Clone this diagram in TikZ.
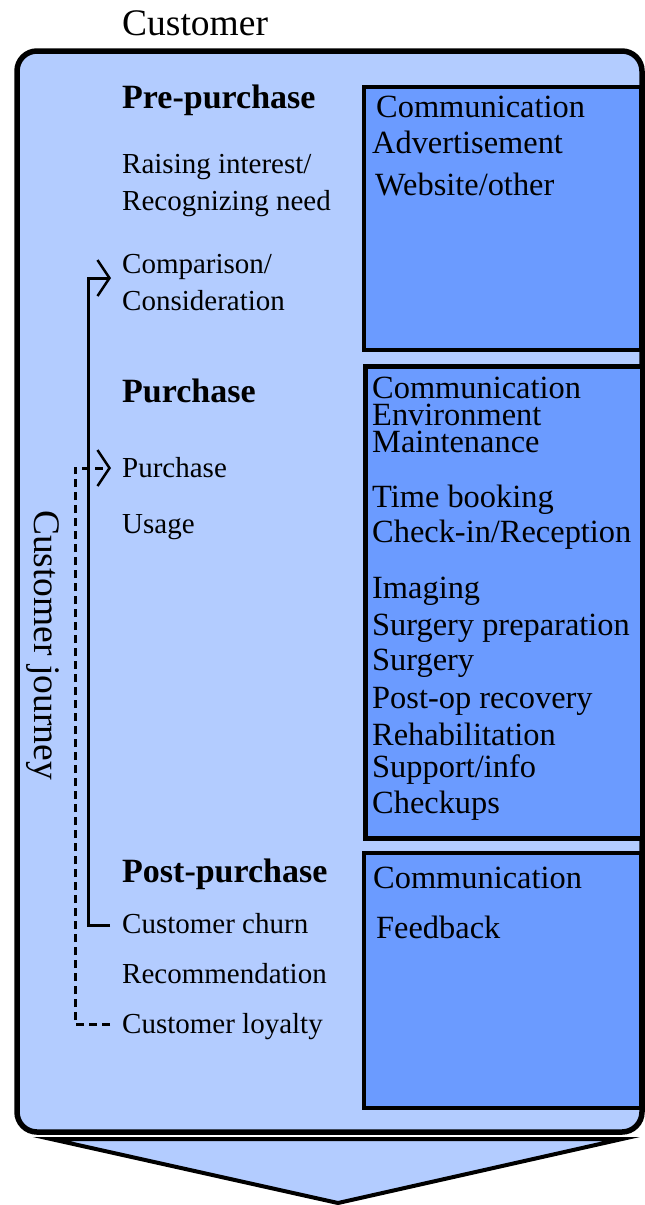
\documentclass[tikz,border=0pt]{standalone}
\usepackage{fontspec}
\setmainfont{Liberation Serif}
\usetikzlibrary{arrows.meta}
\definecolor{outerblue}{HTML}{B3CCFF}
\definecolor{innerblue}{HTML}{6B9BFF}
\tikzset{
  txt/.style={anchor=base west, inner sep=0pt, font=\fontsize{29}{34}\selectfont},
  head/.style={anchor=base west, inner sep=0pt, font=\fontsize{34}{40}\selectfont\bfseries},
  rtxt/.style={anchor=base west, inner sep=0pt, font=\fontsize{32.4}{38}\selectfont},
  bigtxt/.style={inner sep=0pt, font=\fontsize{37.5}{44}\selectfont},
  panel/.style={draw=black, fill=innerblue, line width=3.5pt},
  journeyline/.style={line width=3pt, -{Straight Barb[length=12pt,width=36pt,line width=2.5pt]}},
}
\begin{document}
\begin{tikzpicture}[x=1pt,y=-1pt]
\useasboundingbox (0,0) rectangle (645,1205);
% bottom arrow
\draw[fill=outerblue, line width=4pt, line join=miter] (51,1139) -- (622,1139) -- (338,1203) -- cycle;
% outer box
\draw[fill=outerblue, line width=5.5pt, rounded corners=20pt] (17,51) rectangle (642,1132);
% panels
\node[panel, minimum width=277pt, minimum height=263pt, anchor=north west] (p1) at (362,85) {};
\node[panel, line width=5pt, minimum width=277pt, minimum height=472pt, anchor=north west] (p2) at (363,364) {};
\node[panel, minimum width=277pt, minimum height=255pt, anchor=north west] (p3) at (362,851) {};

\node[bigtxt, anchor=base west] (cust) at (122,35) {Customer};
\node[bigtxt, rotate=-90] (cj) at (43,645) {Customer journey};

% left column
\node[head] (pre) at (122,108) {Pre-purchase};
\node[txt] (raise) at (122,173) {Raising interest/};
\node[txt] (recog) at (122,210) {Recognizing need};
\node[txt] (comp) at (122,273) {Comparison/};
\node[txt] (consid) at (122,310) {Consideration};
\node[head] (pur) at (122,402) {Purchase};
\node[txt] (purch) at (122,477) {Purchase};
\node[txt] (usage) at (122,533) {Usage};
\node[head] (post) at (122,882) {Post-purchase};
\node[txt] (churn) at (122,933) {Customer churn};
\node[txt] (recom) at (122,983) {Recommendation};
\node[txt] (loyal) at (122,1033) {Customer loyalty};

% right panels text
\node[rtxt] (a1) at (376,117) {Communication};
\node[rtxt] (a2) at (372,153) {Advertisement};
\node[rtxt] (a3) at (375,195) {Website/other};

\node[rtxt] (b1) at (372,398) {Communication};
\node[rtxt] (b2) at (372,425) {Environment};
\node[rtxt] (b3) at (372,452) {Maintenance};
\node[rtxt] (b4) at (372,507) {Time booking};
\node[rtxt] (b5) at (372,542) {Check-in/Reception};
\node[rtxt] (b6) at (372,598) {Imaging};
\node[rtxt] (b7) at (372,635) {Surgery preparation};
\node[rtxt] (b8) at (372,670) {Surgery};
\node[rtxt] (b9) at (372,708) {Post-op recovery};
\node[rtxt] (b10) at (372,745) {Rehabilitation};
\node[rtxt] (b11) at (372,777) {Support/info};
\node[rtxt] (b12) at (372,813) {Checkups};

\node[rtxt] (c1) at (373,888) {Communication};
\node[rtxt] (c2) at (376,938) {Feedback};

% journey connectors
\coordinate (churnL) at (110,925);
\coordinate (solidTop) at (88,278);
\coordinate (compL) at (111,278);
\coordinate (loyalL) at (110,1024);
\coordinate (dashTop) at (75,468);
\coordinate (purchL) at (111,468);
\draw[journeyline] (churnL) -| (solidTop) -- (compL);
\draw[journeyline, dash pattern=on 8pt off 5pt] (loyalL) -| (dashTop) -- (purchL);
\end{tikzpicture}
\end{document}
